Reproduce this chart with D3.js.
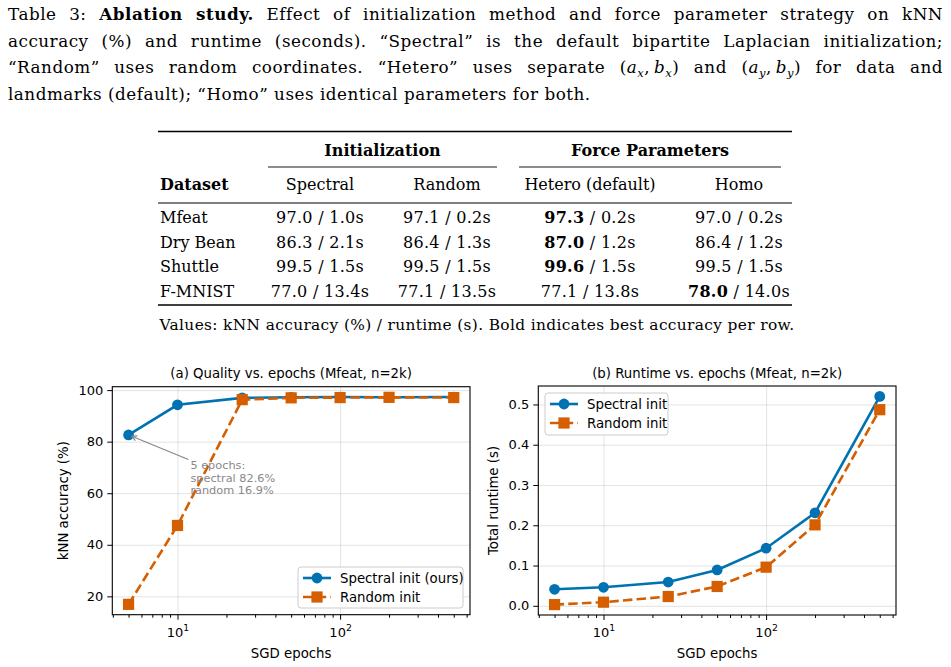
<!DOCTYPE html>
<html>
<head>
<meta charset="utf-8">
<script src="https://cdn.jsdelivr.net/npm/d3@7"></script>
<style>
  body { margin: 0; background: #fff; }
</style>
</head>
<body>
<div id="chart"></div>
<script>
// ---- table data ----
var datasets = ["Mfeat", "Dry Bean", "Shuttle", "F-MNIST"];
var spectralAcc = [97.0, 86.3, 99.5, 77.0];
var spectralTime = [1.0, 2.1, 1.5, 13.4];
var randomAcc = [97.1, 86.4, 99.5, 77.1];
var randomTime = [0.2, 1.3, 1.5, 13.5];
var heteroAcc = [97.3, 87.0, 99.6, 77.1];
var heteroTime = [0.2, 1.2, 1.5, 13.8];
var homoAcc = [97.0, 86.4, 99.5, 78.0];
var homoTime = [0.2, 1.2, 1.5, 14.0];
var columnNames = ["Spectral", "Random", "Hetero (default)", "Homo"];
var groupNames = ["Initialization", "Force Parameters"];

// ---- plot data ----
var epochs = [5, 10, 25, 50, 100, 200, 500];
var spectralAccEpochs = [82.6, 94.3, 97.0, 97.2, 97.3, 97.2, 97.3];
var randomAccEpochs = [16.9, 47.5, 96.3, 97.0, 97.1, 97.2, 97.1];
var spectralRuntime = [0.041, 0.046, 0.059, 0.089, 0.143, 0.231, 0.520];
var randomRuntime = [0.003, 0.009, 0.023, 0.048, 0.096, 0.201, 0.487];
var accTicks = [20, 40, 60, 80, 100];
var runtimeTicks = [0.0, 0.1, 0.2, 0.3, 0.4, 0.5];

var blue = "#0072B2", orange = "#D55E00";
var serif = "'DejaVu Serif', serif";
var sans = "'DejaVu Sans', sans-serif";

var svg = d3.select("#chart").append("svg")
  .attr("width", 951)
  .attr("height", 667);

// ---------- caption ----------
var captionLines = [
  [["Table 3: ", ""], ["Ablation study.", "b"], [" Effect of initialization method and force parameter strategy on kNN", ""]],
  [["accuracy (%) and runtime (seconds). \u201cSpectral\u201d is the default bipartite Laplacian initialization;", ""]],
  [["\u201cRandom\u201d uses random coordinates. \u201cHetero\u201d uses separate (", ""], ["a", "i"], ["x", "sub"], [",\u2009", ""], ["b", "i"], ["x", "sub"],
   [") and (", ""], ["a", "i"], ["y", "sub"], [",\u2009", ""], ["b", "i"], ["y", "sub"], [") for data and", ""]],
  [["landmarks (default); \u201cHomo\u201d uses identical parameters for both.", ""]]
];
var captionY = [20, 46.5, 73, 99.5];

captionLines.forEach(function(segs, i) {
  var t = svg.append("text")
    .attr("x", 8).attr("y", captionY[i])
    .attr("font-family", serif)
    .attr("font-size", 16.8)
    .attr("letter-spacing", 0.5)
    .attr("fill", "#000");
  var shifted = false;
  segs.forEach(function(s) {
    var ts = t.append("tspan").text(s[0]);
    if (s[1] == "b") ts.attr("font-weight", "bold");
    if (s[1] == "i") ts.attr("font-style", "italic");
    if (s[1] == "sub") {
      ts.attr("font-style", "italic").attr("font-size", 11.5).attr("dy", 3.5);
      shifted = true;
    } else if (shifted) {
      ts.attr("dy", -3.5);
      shifted = false;
    }
  });
  // justify all but the last line
  if (i < captionLines.length - 1) {
    var full = segs.map(function(s) { return s[0]; }).join("");
    var spaces = full.split(" ").length - 1;
    var len = t.node().getComputedTextLength();
    t.attr("word-spacing", (935 - len) / spaces);
  }
});

// ---------- table ----------
var tLeft = 158, tRight = 792;
var colX = [320, 447, 590, 739];
var rowY = [223, 247.5, 272, 296.5];

function rule(y, x0, x1, w) {
  svg.append("line").attr("x1", x0).attr("x2", x1).attr("y1", y).attr("y2", y)
    .attr("stroke", "#000").attr("stroke-width", w);
}
rule(131.5, tLeft, tRight, 1.6);
rule(167, 268, 497, 0.9);
rule(167, 519, 781, 0.9);
rule(203, tLeft, tRight, 1);
rule(305, tLeft, tRight, 1.6);

function label(x, y, txt, anchor, bold, size) {
  return svg.append("text").attr("x", x).attr("y", y)
    .attr("text-anchor", anchor)
    .attr("font-family", serif)
    .attr("font-size", size || 16)
    .attr("font-weight", bold ? "bold" : "normal")
    .text(txt);
}
label(382.5, 156, groupNames[0], "middle", true);
label(650, 156, groupNames[1], "middle", true);
label(160, 190, "Dataset", "start", true);
columnNames.forEach(function(c, i) { label(colX[i], 190, c, "middle", false); });

var accCols = [spectralAcc, randomAcc, heteroAcc, homoAcc];
var timeCols = [spectralTime, randomTime, heteroTime, homoTime];

datasets.forEach(function(d, r) {
  label(160, rowY[r], d, "start", false);
  var best = d3.max(accCols, function(c) { return c[r]; });
  accCols.forEach(function(c, k) {
    var t = svg.append("text").attr("x", colX[k]).attr("y", rowY[r])
      .attr("text-anchor", "middle")
      .attr("font-family", serif).attr("font-size", 16)
      .attr("letter-spacing", 0.3);
    t.append("tspan").attr("font-weight", c[r] === best ? "bold" : "normal").text(d3.format(".1f")(c[r]));
    t.append("tspan").text(" / " + d3.format(".1f")(timeCols[k][r]) + "s");
  });
});

label(477, 330, "Values: kNN accuracy (%) / runtime (s). Bold indicates best accuracy per row.", "middle", false, 15.4)
  .attr("letter-spacing", 0.35);

// ---------- plots ----------
function logPad(vals) {
  var lo = Math.log10(d3.min(vals)), hi = Math.log10(d3.max(vals)), m = (hi - lo) * 0.05;
  return [Math.pow(10, lo - m), Math.pow(10, hi + m)];
}
function linPad(vals) {
  var lo = d3.min(vals), hi = d3.max(vals), m = (hi - lo) * 0.05;
  return [lo - m, hi + m];
}

function styleTicks(sel) {
  sel.select(".domain").remove();
  sel.selectAll("line").attr("stroke", "#000").attr("stroke-width", 1);
  sel.selectAll("text").attr("font-family", sans).attr("font-size", 13).attr("fill", "#000");
}

function panel(p) {
  var g = svg.append("g");
  var x = d3.scaleLog().domain(logPad(epochs)).range([p.x0, p.x1]);
  var allVals = p.series[0].vals.concat(p.series[1].vals);
  var y = d3.scaleLinear().domain(linPad(allVals)).range([p.y1, p.y0]);
  var dom = x.domain();

  var xMajor = [10, 100];
  var xMinor = [];
  [1, 10, 100].forEach(function(dec) {
    for (var k = 2; k <= 9; k++) {
      var v = k * dec;
      if (v >= dom[0] && v <= dom[1]) xMinor.push(v);
    }
  });

  // grid
  g.append("g").attr("transform", "translate(0," + p.y1 + ")")
    .call(d3.axisBottom(x).tickValues(xMajor).tickSize(-(p.y1 - p.y0)).tickFormat(""))
    .call(function(s) {
      s.select(".domain").remove();
      s.selectAll("line").attr("stroke", "#b0b0b0").attr("stroke-opacity", 0.35);
    });
  g.append("g").attr("transform", "translate(" + p.x0 + ",0)")
    .call(d3.axisLeft(y).tickValues(p.yTicks).tickSize(-(p.x1 - p.x0)).tickFormat(""))
    .call(function(s) {
      s.select(".domain").remove();
      s.selectAll("line").attr("stroke", "#b0b0b0").attr("stroke-opacity", 0.35);
    });

  // series
  var line = d3.line().x(function(d) { return x(d[0]); }).y(function(d) { return y(d[1]); });
  p.series.forEach(function(s) {
    var pts = epochs.map(function(e, i) { return [e, s.vals[i]]; });
    g.append("path").attr("d", line(pts))
      .attr("fill", "none").attr("stroke", s.color).attr("stroke-width", 2.6)
      .attr("stroke-dasharray", s.dash ? "9.5,4.2" : null);
    drawMarkers(g, pts.map(function(d) { return [x(d[0]), y(d[1])]; }), s);
  });

  // spines
  g.append("rect").attr("x", p.x0).attr("y", p.y0)
    .attr("width", p.x1 - p.x0).attr("height", p.y1 - p.y0)
    .attr("fill", "none").attr("stroke", "#000").attr("stroke-width", 1.1);

  // axes
  g.append("g").attr("transform", "translate(0," + p.y1 + ")")
    .call(d3.axisBottom(x).tickValues(xMinor).tickSize(3).tickFormat(""))
    .call(styleTicks);
  var xa = g.append("g").attr("transform", "translate(0," + p.y1 + ")")
    .call(d3.axisBottom(x).tickValues(xMajor).tickSize(5).tickFormat(""))
    .call(styleTicks);
  xa.selectAll(".tick").append("text")
    .attr("y", 22).attr("text-anchor", "middle")
    .attr("font-family", sans).attr("font-size", 13).attr("fill", "#000")
    .each(function(d) {
      var t = d3.select(this);
      t.append("tspan").text("10");
      t.append("tspan").attr("dy", -6).attr("font-size", 9.3).text(Math.round(Math.log10(d)));
    });
  g.append("g").attr("transform", "translate(" + p.x0 + ",0)")
    .call(d3.axisLeft(y).tickValues(p.yTicks).tickSize(5).tickPadding(4).tickFormat(p.fmt))
    .call(styleTicks);

  // labels
  var cx = (p.x0 + p.x1) / 2, cy = (p.y0 + p.y1) / 2;
  g.append("text").attr("x", cx).attr("y", 378).attr("text-anchor", "middle")
    .attr("font-family", sans).attr("font-size", 13.3).text(p.title);
  g.append("text").attr("x", cx).attr("y", 658).attr("text-anchor", "middle")
    .attr("font-family", sans).attr("font-size", 13.3).text("SGD epochs");
  g.append("text").attr("transform", "translate(" + p.ylabX + "," + cy + ") rotate(-90)")
    .attr("text-anchor", "middle").attr("dy", "0.35em")
    .attr("font-family", sans).attr("font-size", 13.3).text(p.ylabel);

  // legend
  var L = p.legend;
  g.append("rect").attr("x", L.x).attr("y", L.y).attr("width", L.w).attr("height", L.h)
    .attr("rx", 3).attr("fill", "#fff").attr("fill-opacity", 0.85)
    .attr("stroke", "#cccccc").attr("stroke-width", 1);
  p.series.forEach(function(s, i) {
    var ly = L.y + 11 + i * 19;
    var hx0 = L.x + 5, hx1 = L.x + 33;
    g.append("line").attr("x1", hx0).attr("x2", hx1).attr("y1", ly).attr("y2", ly)
      .attr("stroke", s.color).attr("stroke-width", 2.6)
      .attr("stroke-dasharray", s.dash ? "9.5,4.2" : null);
    drawMarkers(g, [[(hx0 + hx1) / 2, ly]], s);
    g.append("text").attr("x", L.x + 42).attr("y", ly).attr("dy", "0.35em")
      .attr("font-family", sans).attr("font-size", 13.3).text(s.name);
  });

  return { x: x, y: y, g: g };
}

function drawMarkers(g, pts, s) {
  if (s.marker == "circle") {
    g.selectAll(null).data(pts).enter().append("circle")
      .attr("cx", function(d) { return d[0]; }).attr("cy", function(d) { return d[1]; })
      .attr("r", 5.4).attr("fill", s.color);
  } else {
    g.selectAll(null).data(pts).enter().append("rect")
      .attr("x", function(d) { return d[0] - 5.6; }).attr("y", function(d) { return d[1] - 5.6; })
      .attr("width", 11.2).attr("height", 11.2).attr("fill", s.color);
  }
}

var pa = panel({
  x0: 112.3, x1: 470, y0: 386.7, y1: 614.7,
  title: "(a) Quality vs. epochs (Mfeat, n=2k)",
  ylabel: "kNN accuracy (%)", ylabX: 63,
  yTicks: accTicks, fmt: d3.format("d"),
  series: [
    { vals: spectralAccEpochs, name: "Spectral init (ours)", color: blue, marker: "circle", dash: false },
    { vals: randomAccEpochs, name: "Random init", color: orange, marker: "square", dash: true }
  ],
  legend: { x: 298, y: 567, w: 165, h: 41 }
});

panel({
  x0: 538.3, x1: 896, y0: 386, y1: 615,
  title: "(b) Runtime vs. epochs (Mfeat, n=2k)",
  ylabel: "Total runtime (s)", ylabX: 493,
  yTicks: runtimeTicks, fmt: d3.format(".1f"),
  series: [
    { vals: spectralRuntime, name: "Spectral init", color: blue, marker: "circle", dash: false },
    { vals: randomRuntime, name: "Random init", color: orange, marker: "square", dash: true }
  ],
  legend: { x: 545, y: 393, w: 123, h: 42 }
});

// annotation on panel (a)
var ann = pa.g.append("text")
  .attr("x", pa.x(12)).attr("y", pa.y(66))
  .attr("font-family", sans).attr("font-size", 11.3).attr("fill", "#888");
var annLines = ["5 epochs:", "spectral " + spectralAccEpochs[0] + "%", "random " + randomAccEpochs[0] + "%"];
annLines.forEach(function(s, i) {
  ann.append("tspan").attr("x", pa.x(12)).attr("dy", i == 0 ? -9 : 12.8).text(s);
});
var bb = ann.node().getBBox();
var px = pa.x(epochs[0]), py = pa.y(spectralAccEpochs[0]);
var tcx = bb.x + bb.width / 2, tcy = bb.y + bb.height / 2;
var dx = px - tcx, dy = py - tcy;
var tt = (bb.x - tcx) / dx;
var tailX = tcx + dx * tt - 2, tailY = tcy + dy * tt - 1;
var dl = Math.hypot(px - tailX, py - tailY);
var ux = (px - tailX) / dl, uy = (py - tailY) / dl;
var hx = px - ux * 3.5, hy = py - uy * 3.5;
pa.g.append("line").attr("x1", tailX).attr("y1", tailY).attr("x2", hx).attr("y2", hy)
  .attr("stroke", "#888").attr("stroke-width", 1.2);
var hl = 5, hw = 2.6;
pa.g.append("path")
  .attr("d", "M" + (hx - ux * hl - uy * hw) + "," + (hy - uy * hl + ux * hw) +
             "L" + hx + "," + hy +
             "L" + (hx - ux * hl + uy * hw) + "," + (hy - uy * hl - ux * hw))
  .attr("fill", "none").attr("stroke", "#888").attr("stroke-width", 1.2);
</script>
</body>
</html>
